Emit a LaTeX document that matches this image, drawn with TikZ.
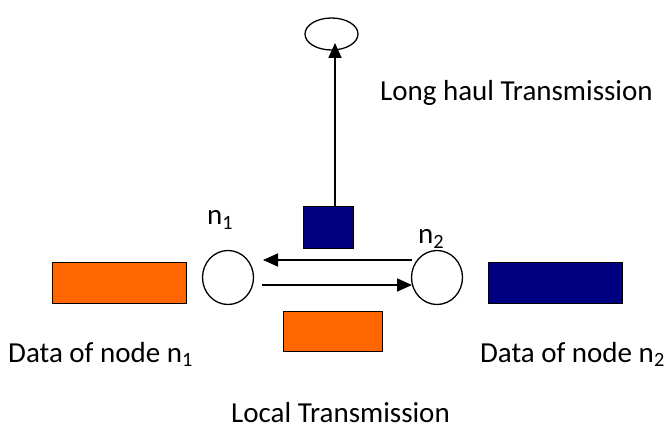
\documentclass[tikz,border=0pt]{standalone}
\usepackage{fontspec}
\setmainfont{Carlito}
\usetikzlibrary{arrows.meta,shapes.geometric}
\definecolor{dataorange}{HTML}{FF6600}
\definecolor{datablue}{HTML}{000080}
\begin{document}
\begin{tikzpicture}[x=1pt,y=-1pt,
  every node/.style={font=\fontsize{29}{34}\selectfont},
  netnode/.style={draw=black,line width=1.3pt,ellipse,minimum width=51pt,minimum height=54pt,inner sep=0pt},
  packet/.style={draw=black,line width=1pt,inner sep=0pt},
  flow/.style={line width=1.8pt,-{Triangle[length=15pt,width=13pt]}},
  label/.style={inner sep=0pt}]
\useasboundingbox (0,0) rectangle (664,430);
% sink at the end of the long-haul link
\node[draw=black,line width=1.3pt,ellipse,minimum width=53pt,minimum height=32pt,inner sep=0pt] (sink) at (331.5,34) {};
% the two network nodes
\node[netnode] (n1) at (228,277.5) {};
\node[netnode] (n2) at (437,277.5) {};
% data blocks
\node[packet,fill=dataorange,minimum width=134pt,minimum height=41pt] (d1) at (119,283.5) {};
\node[packet,fill=datablue,minimum width=134pt,minimum height=41pt] (d2) at (555.5,283.5) {};
\node[packet,fill=datablue,minimum width=50pt,minimum height=42pt] (up) at (328,228) {};
\node[packet,fill=dataorange,minimum width=99pt,minimum height=39pt] (loc) at (332.5,331.5) {};
% links
\coordinate (a1) at (412,260);
\coordinate (a2) at (263,260);
\coordinate (b1) at (262,285);
\coordinate (b2) at (412,285);
\coordinate (s1) at (335,207);
\coordinate (s2) at (335,43);
\draw[flow] (a1) -- (a2);
\draw[flow] (b1) -- (b2);
\draw[flow] (s1) -- (s2);
% labels
\node[label,anchor=base west] (ln1) at (207,225) {n\textsubscript{1}};
\node[label,anchor=base west] (ln2) at (418,244) {n\textsubscript{2}};
\node[label,anchor=base west] (lh) at (380,101) {Long haul Transmission};
\node[label,anchor=base west] (ld1) at (8,362) {Data of node n\textsubscript{1}};
\node[label,anchor=base east] (ld2) at (665,362) {Data of node n\textsubscript{2}};
\node[label,anchor=base west] (lt) at (231,422) {Local Transmission};
\end{tikzpicture}
\end{document}
